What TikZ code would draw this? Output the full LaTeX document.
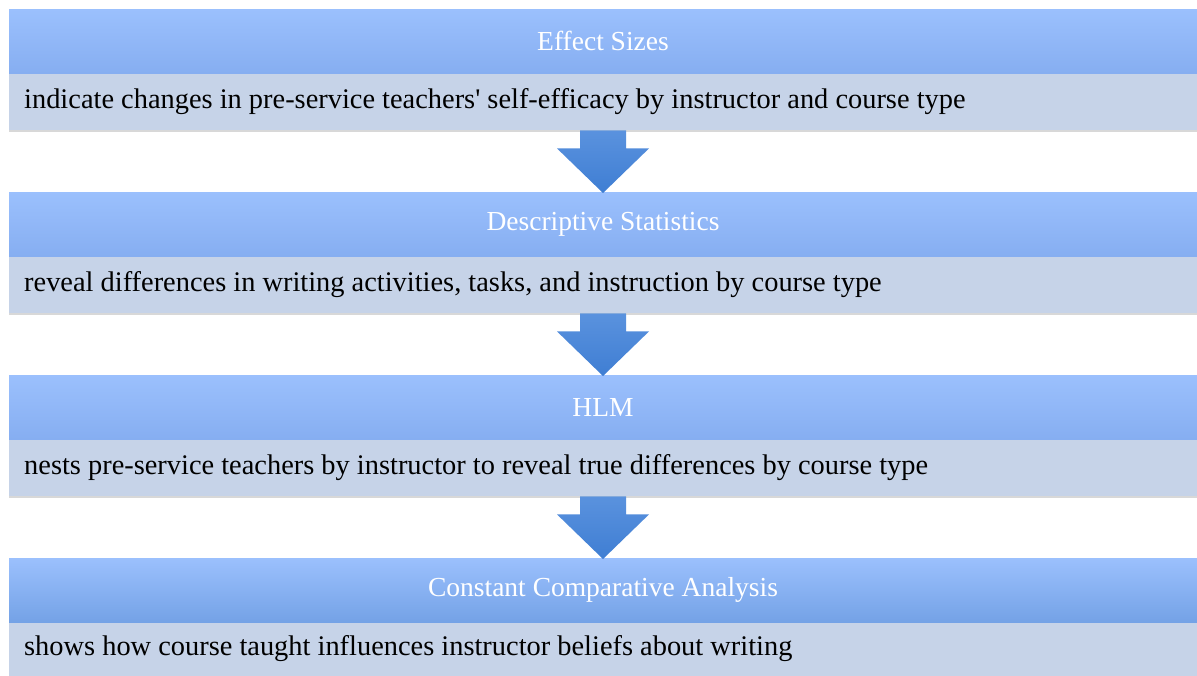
\documentclass[tikz,border=0pt]{standalone}
\usepackage{fontspec}
\setmainfont{Liberation Serif}
\usetikzlibrary{positioning,calc,shadows}
\definecolor{headtop}{HTML}{9BC0FD}
\definecolor{headbot}{HTML}{86AEF1}
\definecolor{lastbot}{HTML}{74A2E6}
\definecolor{bodyfill}{HTML}{C6D3E8}
\definecolor{arrowtop}{HTML}{5A92DE}
\definecolor{arrowbot}{HTML}{3F7ED3}
\tikzset{
  headbar/.style={rectangle,minimum width=1188pt,minimum height=64pt,inner sep=0pt,
    top color=headtop,bottom color=headbot,text=white,font=\fontsize{27.5}{30}\selectfont,anchor=north},
  bodybar/.style={rectangle,minimum width=1188pt,minimum height=57pt,inner sep=0pt,
    fill=bodyfill,drop shadow={shadow xshift=0pt,shadow yshift=-2pt,opacity=.3}},
  bodytext/.style={anchor=west,text=black,font=\fontsize{28.4}{31}\selectfont,inner sep=0pt},
  downarrow/.style={top color=arrowtop,bottom color=arrowbot,draw=none}
}
\begin{document}
\begin{tikzpicture}[x=1pt,y=1pt]
\useasboundingbox[fill=white] (0,0) rectangle (1197,-675);
% blocks
\node[bodybar,anchor=north] (bd1) at (603,-73) {};
\node[headbar] (hd1) at (603,-9) {Effect Sizes};
\node[bodybar,anchor=north] (bd2) at (603,-256) {};
\node[headbar] (hd2) at (603,-192) {Descriptive Statistics};
\node[bodybar,anchor=north] (bd3) at (603,-439) {};
\node[headbar] (hd3) at (603,-375) {HLM};
\node[bodybar,anchor=north] (bd4) at (603,-620) {};
\node[headbar,bottom color=lastbot] (hd4) at (603,-558) {Constant Comparative Analysis};
% texts
\node[bodytext] (tx1) at (24,-102) {indicate changes in pre-service teachers\textquotesingle{} self-efficacy by instructor and course type};
\node[bodytext] (tx2) at (24,-285) {reveal differences in writing activities, tasks, and instruction by course type};
\node[bodytext] (tx3) at (24,-468) {nests pre-service teachers by instructor to reveal true differences by course type};
\node[bodytext] (tx4) at (24,-649) {shows how course taught influences instructor beliefs about writing};
% arrows
\foreach \a/\b in {bd1/hd2,bd2/hd3,bd3/hd4}
  \path[downarrow] ($(\a.south)+(-23,0)$) -- ($(\a.south)+(23,0)$) -- ($(\a.south)+(23,-18)$)
    -- ($(\a.south)+(46,-18)$) -- ($(\b.north)+(0,-1)$) -- ($(\a.south)+(-46,-18)$)
    -- ($(\a.south)+(-23,-18)$) -- cycle;
\end{tikzpicture}
\end{document}
